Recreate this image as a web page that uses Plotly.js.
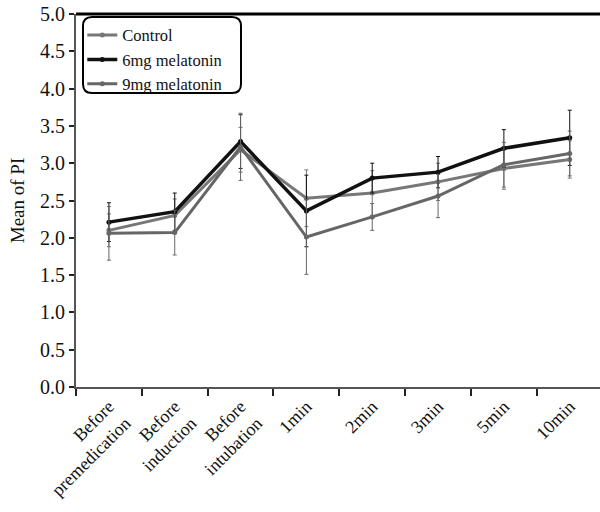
<!DOCTYPE html>
<html>
<head>
<meta charset="utf-8">
<script src="https://cdn.plot.ly/plotly-3.0.1.min.js"></script>
<style>html,body{margin:0;padding:0;background:#fff;}#chart{width:600px;height:512px;}</style>
</head>
<body>
<div id="chart"></div>
<script>
const categories = ["Before<br>premedication", "Before<br>induction", "Before<br>intubation", "1min", "2min", "3min", "5min", "10min"];
const controlMean = [2.10, 2.30, 3.18, 2.53, 2.60, 2.75, 2.93, 3.05];
const controlErr  = [0.22, 0.22, 0.30, 0.38, 0.30, 0.25, 0.28, 0.25];
const mg6Mean     = [2.21, 2.35, 3.29, 2.36, 2.80, 2.88, 3.20, 3.34];
const mg6Err      = [0.26, 0.25, 0.36, 0.48, 0.20, 0.21, 0.25, 0.37];
const mg9Mean     = [2.06, 2.07, 3.22, 2.01, 2.28, 2.56, 2.98, 3.13];
const mg9Err      = [0.36, 0.30, 0.45, 0.50, 0.18, 0.29, 0.30, 0.30];
const seriesNames = ["Control", "6mg melatonin", "9mg melatonin"];

const serif = "Liberation Serif";

function trace(name, y, err, color, lw) {
  return {
    type: "scatter", mode: "lines+markers", name: name,
    x: categories, y: y,
    line: {color: color, width: lw},
    marker: {color: color, size: 5, symbol: "circle"},
    error_y: {type: "data", array: err, visible: true, color: color, thickness: 1, width: 2}
  };
}

const data = [
  trace(seriesNames[0], controlMean, controlErr, "#777777", 3),
  trace(seriesNames[1], mg6Mean, mg6Err, "#111111", 3.5),
  trace(seriesNames[2], mg9Mean, mg9Err, "#666666", 3)
];

const pw = 524, ph = 373;
const bx0 = (83-76)/pw, bx1 = (241-76)/pw, by1 = 1-(17-14)/ph, by0 = 1-(93-14)/ph;
const rx = 9/pw, ry = 9/ph;
const legendPath = `M ${bx0+rx} ${by1} L ${bx1-rx} ${by1} Q ${bx1} ${by1} ${bx1} ${by1-ry} L ${bx1} ${by0+ry} Q ${bx1} ${by0} ${bx1-rx} ${by0} L ${bx0+rx} ${by0} Q ${bx0} ${by0} ${bx0} ${by0+ry} L ${bx0} ${by1-ry} Q ${bx0} ${by1} ${bx0+rx} ${by1} Z`;

const layout = {
  width: 600, height: 512,
  margin: {l: 76, r: 0, t: 14, b: 125},
  paper_bgcolor: "#fff", plot_bgcolor: "#fff",
  font: {family: serif, size: 18, color: "#111"},
  showlegend: true,
  legend: {
    x: 0.012, y: 0.99, xanchor: "left", yanchor: "top",
    bgcolor: "rgba(0,0,0,0)", borderwidth: 0,
    font: {family: serif, size: 16.5, color: "#111"},
    itemwidth: 30, tracegroupgap: 0
  },
  xaxis: {
    type: "category", range: [-0.5, 7.46],
    tickson: "boundaries", ticks: "outside", ticklen: 7, tickwidth: 2, tickcolor: "#222",
    tickangle: -45, tickfont: {family: serif, size: 18, color: "#111"},
    showline: true, linecolor: "#555", linewidth: 2,
    showgrid: false, zeroline: false, fixedrange: true
  },
  yaxis: {
    range: [0, 5], dtick: 0.5, tickformat: ".1f",
    ticks: "outside", ticklen: 5, tickwidth: 2, tickcolor: "#222",
    tickfont: {family: serif, size: 20, color: "#111"},
    showline: true, linecolor: "#555", linewidth: 2,
    showgrid: false, zeroline: false,
    title: {text: "Mean of PI", font: {family: serif, size: 19, color: "#111"}, standoff: 10}
  },
  shapes: [
    {type: "line", xref: "paper", yref: "paper", x0: 0, x1: 1, y0: 1, y1: 1, line: {color: "#000", width: 3}},
    {type: "path", xref: "paper", yref: "paper", path: legendPath, line: {color: "#000", width: 2}, fillcolor: "rgba(0,0,0,0)"}
  ]
};

Plotly.newPlot("chart", data, layout, {displayModeBar: false, staticPlot: true});
</script>
</body>
</html>
